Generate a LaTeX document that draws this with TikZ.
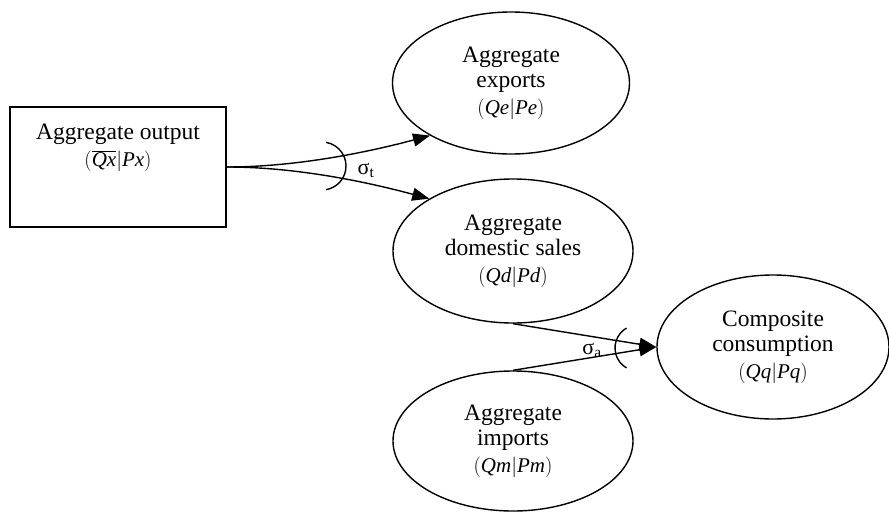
\documentclass[tikz,border=0pt]{standalone}
\usepackage{fontspec}
\setmainfont{Liberation Serif}
\usetikzlibrary{shapes.geometric,arrows.meta}
\newcommand\mypq[2]{{\fontsize{21}{24}\selectfont$\bigl(\mbox{\itshape #1}\big|\mbox{\itshape #2}\bigr)$}}
\newcommand\mypqo[2]{{\fontsize{21}{24}\selectfont$\bigl(\overline{\mbox{\itshape #1}}\big|\mbox{\itshape #2}\bigr)$}}
\begin{document}
\begin{tikzpicture}[x=1pt,y=-1pt, line width=1.4pt,
  box/.style={draw, rectangle, minimum width=216pt, minimum height=120pt, inner sep=0pt},
  oval/.style={draw, ellipse, inner sep=0pt, align=center, font=\fontsize{23.5}{25}\selectfont},
  lbl/.style={align=center, font=\fontsize{23.5}{25}\selectfont, inner sep=0pt},
  flow/.style={-{Triangle[length=17pt,width=13pt]}},
  sig/.style={font=\fontsize{22}{24}\selectfont, inner sep=0pt}]
\fill[white] (0,0) rectangle (889,512);
\useasboundingbox (0,0) rectangle (889,512);

\node[box] (out) at (118,167) {};
\node[lbl] (outl) at (118,148) {Aggregate output\\[2pt]\mypqo{Qx}{Px}};

\node[oval, minimum width=237pt, minimum height=142pt] (exp) at (511,83) {Aggregate\\exports\\[2pt]\mypq{Qe}{Pe}};
\node[oval, minimum width=240pt, minimum height=144pt] (dom) at (513,251) {Aggregate\\domestic sales\\[2pt]\mypq{Qd}{Pd}};
\node[oval, minimum width=240pt, minimum height=140pt] (imp) at (513,441) {Aggregate\\imports\\[2pt]\mypq{Qm}{Pm}};
\node[oval, minimum width=232pt, minimum height=144pt] (comp) at (773,347) {Composite\\consumption\\[2pt]\mypq{Qq}{Pq}};

\draw[flow] (out.east) .. controls +(80,0) and +(-45,12) .. (exp.213);
\draw[flow] (out.east) .. controls +(80,0) and +(-45,-12) .. (dom.148);
\draw[flow] (dom.south) -- (comp.west);
\draw[flow] (imp.north) -- (comp.west);

\draw (322,166) ++(-80:24) arc[start angle=-80, end angle=80, radius=24];
\draw (638,348) ++(120:23) arc[start angle=120, end angle=240, radius=23];

\node[sig] (st) at (366,170) {σ\textsubscript{t}};
\node[sig] (sa) at (592,350) {σ\textsubscript{a}};
\end{tikzpicture}
\end{document}
